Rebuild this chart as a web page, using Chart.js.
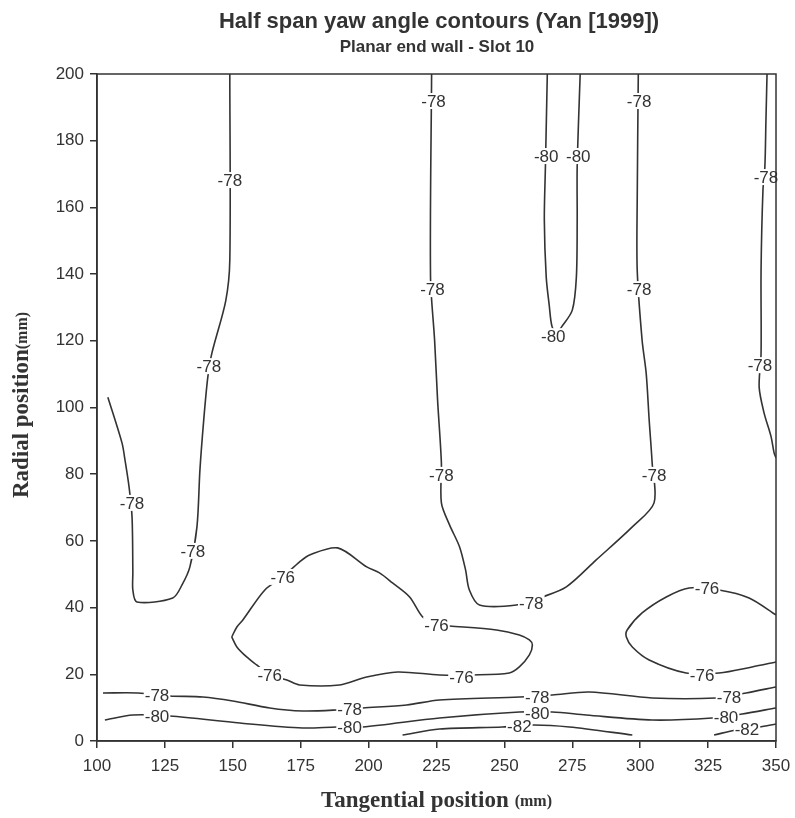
<!DOCTYPE html>
<html>
<head>
<meta charset="utf-8">
<script src="https://cdn.jsdelivr.net/npm/chart.js@4"></script>
<style>
  html, body { margin: 0; padding: 0; background: #fff; }
  #wrap { width: 795px; height: 818px; }
</style>
</head>
<body>
<div id="wrap"><canvas id="yawChart" width="795" height="818"></canvas></div>
<script>
// contour lines as [tangential mm, radial mm]
const left78 = [[148.9,200],[148.9,144.2],[147.4,132],[142.3,116.3],[140.8,109.1],[139.3,96.3],[137.9,81.3],
  [136.8,64.2],[134.2,52.2],[131.3,46.8],[127.9,42.9],[114.7,41.7],[113.2,45.3],[113.2,50.4],[112.9,67.2],
  [111.8,76.2],[110.3,84.3],[109.2,89.4],[104.0,103.1]];
const mid78 = [[223.2,200],[222.8,139.1],[224.3,120.2],[225.4,102.2],[226.8,83.4],[226.8,71.4],[229.8,64.8],
  [233.5,58.2],[235.7,51.3],[237.1,45.3],[240.8,40.8],[254.4,40.8],[264.0,43.2],[272.8,46.2],[283.8,54.3],
  [297.1,64.2],[305.1,71.4],[304.4,83.4],[303.3,96.3],[302.2,110.3],[300.7,120.2],[298.9,141.2],[298.9,162.2],[299.3,200]];
const core80 = [[265.8,200],[265.1,172.1],[264.7,156.2],[265.4,139.1],[266.5,130.7],[267.6,124.1],[269.5,122.5],
  [271.0,124.1],[275.0,129.2],[276.5,139.1],[276.8,156.2],[276.8,172.1],[277.9,200]];
const right78 = [[346.7,200],[346.3,186.2],[345.9,172.1],[345.2,165.2],[344.5,141.2],[344.5,116.3],[343.8,106.1],
  [345.6,98.4],[348.2,91.2],[349.3,86.4],[350,84.9]];
const blob76 = [[149.6,31.2],[151.5,34.2],[153.7,36.3],[161.8,45.3],[168.4,49.2],[174.6,53.7],[178.3,55.8],
  [188.6,57.9],[199.3,52.2],[204.0,50.4],[208.8,47.4],[215.1,43.2],[219.9,37.2],[225.0,34.8],[229.8,34.5],
  [247.1,33.3],[255.5,31.8],[259.2,30.3],[260.3,28.8],[259.2,25.8],[255.5,22.2],[251.8,20.4],[238.2,19.8],
  [226.1,19.8],[210.7,20.7],[199.3,19.2],[189.3,16.8],[174.6,16.8],[169.9,18.3],[163.6,19.8],[158.8,22.8],
  [155.1,25.2],[151.5,28.2],[149.6,31.2]];
const edge76 = [[350,37.8],[340.1,42.9],[329.0,45.3],[318.0,45.9],[309.6,43.2],[300.7,38.4],[295.2,33.3],
  [294.9,31.2],[297.1,28.2],[303.3,24.3],[316.9,20.4],[329.0,20.4],[341.2,22.2],[350,23.7]];
const low78 = [[102.2,14.4],[115.1,14.4],[126.8,13.5],[139.0,13.2],[150.0,12.0],[163.6,9.9],[175.7,9.0],
  [188.2,9.3],[197.8,9.9],[214.0,10.8],[226.1,12.3],[255.5,13.2],[267.6,13.8],[281.3,14.7],[304.4,12.9],
  [327.9,12.9],[339.0,14.4],[350,16.2]];
const low80 = [[102.9,6.3],[113.2,7.8],[126.8,7.5],[152.6,5.4],[175.7,3.9],[188.2,4.2],[197.8,4.2],[226.1,6.9],
  [255.5,8.7],[267.6,8.7],[280.1,7.8],[304.4,6.3],[326.5,6.9],[337.5,8.1],[350,9.9]];
const low82a = [[212.5,1.8],[226.1,3.6],[249.3,4.2],[261.0,4.8],[273.9,4.2],[297.1,1.8]];
const low82b = [[327.2,1.8],[335.3,3.3],[343.8,4.2],[350,5.1]];

// contour labels: [text, x, y]
const contourLabels = [
  ['-78',148.9,168.2],['-78',141.2,112.4],['-78',135.3,57.0],['-78',112.9,71.4],
  ['-78',223.9,191.9],['-78',223.5,135.5],['-78',226.8,79.8],['-78',259.9,41.4],
  ['-78',305.1,79.8],['-78',299.6,135.5],['-78',299.6,191.9],
  ['-80',265.4,175.4],['-80',277.2,175.4],['-80',268.0,121.4],
  ['-78',346.3,169.1],['-78',344.1,112.7],
  ['-76',168.4,49.2],['-76',225.0,34.8],['-76',234.2,19.2],['-76',163.6,19.8],
  ['-76',324.6,45.9],['-76',322.8,19.8],
  ['-78',122.1,13.8],['-78',193.0,9.6],['-78',262.1,13.2],['-78',332.7,13.2],
  ['-80',122.1,7.5],['-80',193.0,4.2],['-80',262.1,8.4],['-80',331.6,7.2],
  ['-82',255.5,4.5],['-82',339.3,3.6]
];

const xTicks = [100,125,150,175,200,225,250,275,300,325,350];
const yTicks = [0,20,40,60,80,100,120,140,160,180,200];

const lines = [left78, mid78, core80, right78, blob76, edge76, low78, low80, low82a, low82b];
const ink = '#333';

const decor = {
  id: 'decor',
  afterDatasetsDraw(chart) {
    const c = chart.ctx, a = chart.chartArea;
    const xs = chart.scales.x, ys = chart.scales.y;
    c.save();
    c.font = '17px "Liberation Sans", Arial, sans-serif';
    c.textAlign = 'center';
    c.textBaseline = 'middle';
    contourLabels.forEach(([t, x, y]) => {
      const px = xs.getPixelForValue(x), py = ys.getPixelForValue(y);
      const w = c.measureText(t).width;
      c.fillStyle = '#fff';
      c.fillRect(px - w / 2 - 1, py - 8, w + 2, 16);
      c.fillStyle = ink;
      c.fillText(t, px, py + 1);
    });
    // frame
    c.strokeStyle = ink;
    c.lineWidth = 1.5;
    c.strokeRect(a.left, a.top, a.right - a.left, a.bottom - a.top);
    c.restore();
  },
  afterDraw(chart) {
    const c = chart.ctx, a = chart.chartArea;
    const cx = (a.left + a.right) / 2;
    c.save();
    c.fillStyle = ink;
    c.textAlign = 'center';
    c.textBaseline = 'middle';
    c.font = 'bold 22px "Liberation Sans", Arial, sans-serif';
    c.fillText('Half span yaw angle contours (Yan [1999])', 439, 22);
    c.font = 'bold 17px "Liberation Sans", Arial, sans-serif';
    c.fillText('Planar end wall - Slot 10', 437, 47);

    // axis titles with small (mm)
    const big = 'bold 23px "Liberation Serif", "Times New Roman", serif';
    const small = 'bold 16px "Liberation Serif", "Times New Roman", serif';
    const drawMixed = (main, unit, gap) => {
      c.font = big; const w1 = c.measureText(main).width;
      c.font = small; const w2 = c.measureText(unit).width;
      const start = -(w1 + gap + w2) / 2;
      c.textAlign = 'left';
      c.font = big; c.fillText(main, start, 0);
      c.font = small; c.fillText(unit, start + w1 + gap, 1);
    };
    c.save();
    c.translate(cx, 801);
    drawMixed('Tangential position', '(mm)', 6);
    c.restore();
    c.save();
    c.translate(22, 405);
    c.rotate(-Math.PI / 2);
    drawMixed('Radial position', '(mm)', 0);
    c.restore();
    c.restore();
  }
};

new Chart(document.getElementById('yawChart'), {
  type: 'scatter',
  data: {
    datasets: lines.map(pts => ({
      data: pts.map(p => ({ x: p[0], y: p[1] })),
      showLine: true,
      borderColor: ink,
      borderWidth: 1.6,
      pointRadius: 0,
      tension: 0.3,
      fill: false
    }))
  },
  options: {
    responsive: false,
    animation: false,
    layout: { padding: { top: 74, right: 19, left: 0, bottom: 0 } },
    plugins: { legend: { display: false }, tooltip: { enabled: false }, title: { display: false } },
    scales: {
      x: {
        type: 'linear', min: 100, max: 350,
        afterBuildTicks: s => { s.ticks = xTicks.map(v => ({ value: v })); },
        afterFit: s => { s.height = 77; s.paddingLeft = 0; s.paddingRight = 0; },
        ticks: { color: ink, padding: 8, maxRotation: 0, font: { family: '"Liberation Sans", Arial, sans-serif', size: 17 } },
        grid: { drawOnChartArea: false, drawTicks: true, tickLength: 7, color: ink, lineWidth: 1.5 },
        border: { display: true, color: ink, width: 1.5 }
      },
      y: {
        type: 'linear', min: 0, max: 200,
        afterBuildTicks: s => { s.ticks = yTicks.map(v => ({ value: v })); },
        afterFit: s => { s.width = 97; s.paddingTop = 0; s.paddingBottom = 0; },
        ticks: { color: ink, padding: 6, font: { family: '"Liberation Sans", Arial, sans-serif', size: 17 } },
        grid: { drawOnChartArea: false, drawTicks: true, tickLength: 7, color: ink, lineWidth: 1.5 },
        border: { display: true, color: ink, width: 1.5 }
      }
    }
  },
  plugins: [decor]
});
</script>
</body>
</html>
